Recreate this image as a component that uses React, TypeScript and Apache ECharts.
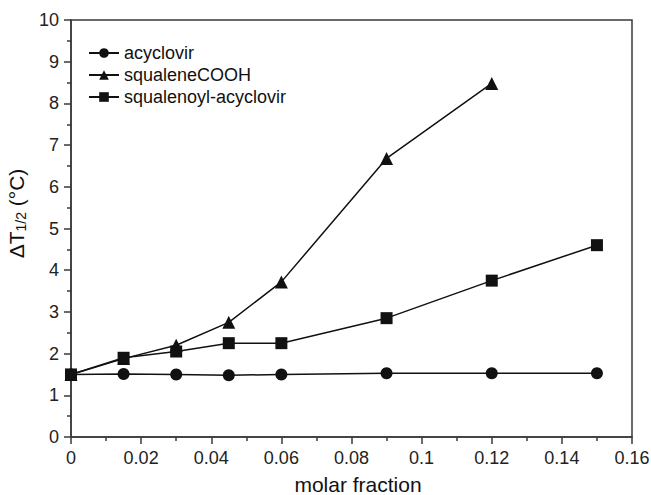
import React, { useEffect, useRef } from "react";
import * as echarts from "echarts";

const xValues = [0, 0.015, 0.03, 0.045, 0.06, 0.09, 0.12, 0.15];
const acyclovir = [1.5, 1.51, 1.5, 1.48, 1.5, 1.53, 1.53, 1.53];
const squaleneCOOHx = [0, 0.015, 0.03, 0.045, 0.06, 0.09, 0.12];
const squaleneCOOH = [1.5, 1.88, 2.2, 2.75, 3.72, 6.68, 8.48];
const squalenoylAcyclovir = [1.5, 1.9, 2.05, 2.25, 2.25, 2.85, 3.75, 4.6];
const seriesNames = ["acyclovir", "squaleneCOOH", "squalenoyl-acyclovir"];

const FONT = "'Liberation Sans', Arial, sans-serif";
const AXIS = "#3a3a3a";

export default function App() {
  const ref = useRef<HTMLDivElement>(null);
  useEffect(() => {
    if (!ref.current) return;
    const chart = echarts.init(ref.current, undefined, { renderer: "svg" });
    const pairs = (xs: number[], ys: number[]) => xs.map((x, i) => [x, ys[i]]);
    const common = {
      type: "line",
      lineStyle: { color: "#111", width: 1.5 },
      itemStyle: { color: "#111" },
      symbolSize: 12,
      showAllSymbol: true,
    };
    chart.setOption({
      animation: false,
      backgroundColor: "#fff",
      textStyle: { fontFamily: FONT },
      grid: {
        left: 71,
        right: 19,
        top: 20,
        bottom: 58,
        containLabel: false,
        outerBoundsMode: "none",
        show: true,
        borderColor: AXIS,
        borderWidth: 1.5,
      },
      legend: {
        left: 88,
        top: 44,
        padding: 0,
        orient: "vertical",
        itemWidth: 30,
        itemHeight: 12,
        itemGap: 4,
        textStyle: { fontFamily: FONT, fontSize: 18, lineHeight: 18, color: "#111" },
        data: seriesNames,
      },
      xAxis: {
        type: "value",
        min: 0,
        max: 0.16,
        interval: 0.02,
        name: "molar fraction",
        nameLocation: "middle",
        nameGap: 37,
        nameTextStyle: { fontFamily: FONT, fontSize: 21, color: "#111", padding: [0, 0, 0, 13] },
        axisLine: { show: true, onZero: false, lineStyle: { color: AXIS, width: 1.5 } },
        axisTick: { show: true, inside: false, length: 7, lineStyle: { color: AXIS, width: 1.5 } },
        minorTick: { show: true, splitNumber: 2, length: 4, lineStyle: { color: AXIS, width: 1.5 } },
        splitLine: { show: false },
        axisLabel: {
          fontFamily: FONT,
          fontSize: 18,
          color: "#222",
          margin: 12,
          formatter: (v: number) => String(Number(v.toFixed(2))),
        },
      },
      yAxis: {
        type: "value",
        min: 0,
        max: 10,
        interval: 1,
        name: "{a|ΔT}{s|1/2}{a| (°C)}",
        nameLocation: "middle",
        nameGap: 34,
        nameRotate: 90,
        nameTextStyle: {
          padding: [0, 0, 0, 30],
          rich: {
            a: { fontFamily: FONT, fontSize: 21, color: "#111" },
            s: { fontFamily: FONT, fontSize: 14, color: "#111", verticalAlign: "bottom", padding: [10, 0, 0, 0] },
          },
        },
        axisLine: { show: true, lineStyle: { color: AXIS, width: 1.5 } },
        axisTick: { show: true, inside: false, length: 7, lineStyle: { color: AXIS, width: 1.5 } },
        minorTick: { show: true, splitNumber: 2, length: 4, lineStyle: { color: AXIS, width: 1.5 } },
        splitLine: { show: false },
        axisLabel: { fontFamily: FONT, fontSize: 18, color: "#222", margin: 12 },
      },
      series: [
        { ...common, name: seriesNames[0], symbol: "circle", data: pairs(xValues, acyclovir) },
        { ...common, name: seriesNames[1], symbol: "triangle", symbolSize: 13, data: pairs(squaleneCOOHx, squaleneCOOH) },
        { ...common, name: seriesNames[2], symbol: "rect", symbolSize: 12, data: pairs(xValues, squalenoylAcyclovir) },
      ],
    });
    return () => chart.dispose();
  }, []);
  return (
    <div
      ref={ref}
      style={{ position: "fixed", left: 0, top: 0, width: 651, height: 495, overflow: "visible" }}
    />
  );
}
